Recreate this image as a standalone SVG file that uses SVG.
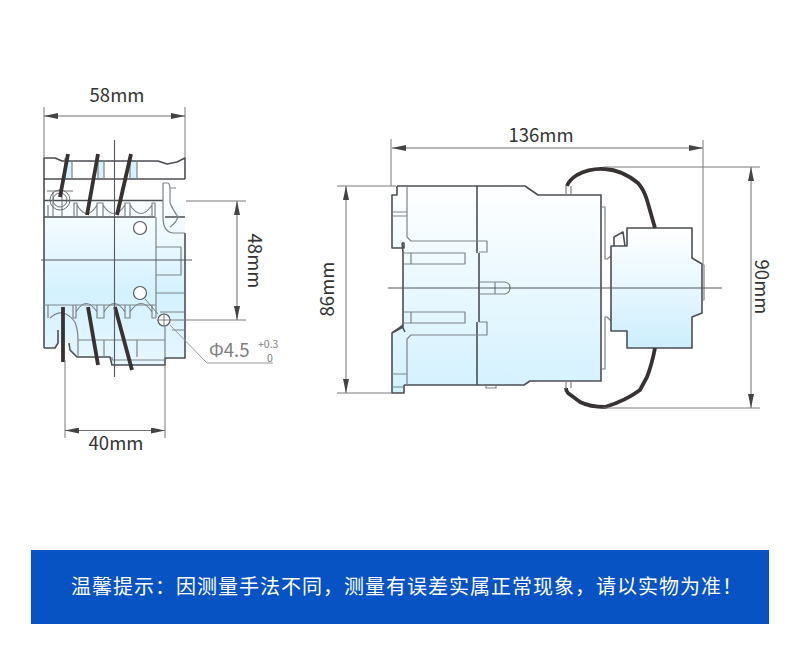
<svg xmlns="http://www.w3.org/2000/svg" width="800" height="661" viewBox="0 0 800 661">
<style>
text{font-family:"Noto Sans CJK SC","Noto Sans",sans-serif;fill:#333}
.d{font-size:18.500px}
.o{fill:none;stroke:#4c4f54;stroke-width:1.6;stroke-linejoin:round}
.t{fill:none;stroke:#7d8388;stroke-width:1.2;stroke-linejoin:round}
.m{fill:none;stroke:#7a7a7a;stroke-width:1}
.c{fill:none;stroke:#55585c;stroke-width:1.1}
.w{fill:none;stroke:#383232;stroke-width:3.8}
.a{fill:none;stroke:#6f6f6f;stroke-width:1;marker-start:url(#ah);marker-end:url(#ah)}
.g{fill:#7f7f7f}
</style>
<defs>
<marker id="ah" viewBox="0 0 14 6" refX="14" refY="3" markerWidth="14" markerHeight="6" markerUnits="userSpaceOnUse" orient="auto-start-reverse"><path d="M14 3L0 0V6Z" fill="#444"/></marker>
<linearGradient id="g" gradientUnits="userSpaceOnUse" x1="0" y1="186" x2="0" y2="393"><stop offset="0" stop-color="#fff"/><stop offset="1" stop-color="#d3f1fe"/></linearGradient>
<linearGradient id="g2" gradientUnits="userSpaceOnUse" x1="0" y1="228" x2="0" y2="348"><stop offset="0" stop-color="#fff"/><stop offset="1" stop-color="#cdeefd"/></linearGradient>
<linearGradient id="g3" gradientUnits="userSpaceOnUse" x1="0" y1="195" x2="0" y2="360"><stop offset="0" stop-color="#fff"/><stop offset=".6" stop-color="#d3f1fe"/><stop offset="1" stop-color="#e6f7ff"/></linearGradient>
</defs>
<rect width="800" height="661" fill="#fff"/>

<g id="side-view">
<path d="M44 158H55L62 162H158L167 164L177 162L185 158V358H165V365H112L110 357H77L70 350L69 343H58L55 348H44Z" fill="url(#g3)"/>
<path d="M65 160H72V179H65ZM98 160H104V179H98ZM130 160H137V179H130Z" fill="#d8f2fd"/>
<path class="o" d="M44 348V158H55L62 161H158L167 164L177 162L185 158V179M185 233V358H165V365H112L110 357H77L70 350L69 343M44 348H55L58 343V330"/>
<path class="o" d="M44 179H185M44 200.500H163M44 217H155M165 217H185"/>
<path class="t" d="M156 217V318M156 247H181V275H156M156 293H185M160 312H185M172 330H185M44 305H156M50 318Q63 306 75 322Q78 330 78 340M78 340V357M78 340H165M104 340V357M137 340V357M165 327V358M112 357V360H165"/>
<path class="t" d="M48 217V205M74 217V203H77V217M77 205Q87 222 97 205M97 217V203H103V217M103 205Q114 222 125 205M125 217V203H130V217M130 205Q141 222 152 205M152 217V203H155V217"/>
<path class="t" d="M48 305V318M73 305V318H76V305M76 312Q86 295 97 312M97 305V318H104V305M104 312Q114 295 125 312M125 305V318H130V305M130 312Q141 295 152 312M152 305V318H156"/>
<path class="t" d="M163 183V217Q163 232 173 233H185M163 183H168Q170 184 170 190V203Q172 208 178 217Q176 223 170 227M170 188H176M65 158V179M72 160V179M98 160V179M104 160V179M130 160V179M137 160V179"/>
<g fill="none" stroke="#6d7175" stroke-width="1"><circle cx="60" cy="200" r="10"/><circle cx="60" cy="200" r="7"/><path d="M47 191H73M53 192V217M62 192V217"/></g>
<circle cx="140" cy="228" r="6.500" fill="#fff" stroke="#55585c" stroke-width="1.200"/>
<circle cx="140" cy="293" r="6.500" fill="#fff" stroke="#55585c" stroke-width="1.200"/>
<circle cx="164" cy="320" r="6" fill="#fff" stroke="#55585c" stroke-width="1.200"/>
<path class="m" d="M157 320H171M164 313V327M145 299L158 314"/>
<path class="w" d="M68 154L60 197M98 154L87 215M131 154L117 215M63 307V362M88 307L98 365M115 307L132 370"/>
</g>

<g id="front-view">
<path d="M392 186H525L538 195H601V381H530L525 385H404V393H392V333L403 327V248H392V195H397V186Z" fill="url(#g)"/>
<path class="o" d="M397 186H525L538 195H601V381H530L524 385H404M397 186V195H392V248H404V243L402 243M402 243L403 252V303M403 272V327L392 333V393H404V385M392 333L402 326L405 332M477 186V253M477 322V385M479 253V322"/>
<path class="t" d="M407 186V237L411 241H487V252H479M479 322H487V335H411L407 339V385M392 212H407M392 216H407M392 374H407M392 387H404M479 282H505Q510 283 510 288Q510 293 505 294H479M495 282V294"/>
<path class="t" d="M404 253H465V264H404M411 253V264M404 312H465V323H404M411 312V323M486 385V388H496V385"/>
<path class="t" d="M602 207H605V259H607L611 256M611 321L607 317H605V369H602"/>
</g>

<g id="module">
<path d="M627 228H692V258L702 264V313L692 317V348H627V331H611V246H627Z" fill="url(#g2)"/>
<path class="o" d="M627 228H692V258L702 264V313L692 317V348H627V331H611V246H627ZM614 246V237L623 232L625 246"/>
<path class="t" d="M702 265H704V300H702"/>
</g>

<g id="wires">
<path class="w" d="M567 186Q569 180 577 175Q590 168 605 169Q622 170 638 183Q644 190 647 200L655 228M655 348Q652 364 647 377L640 390Q625 401 605 407Q590 407 580 402L568 393Q566 391 566 388"/>
<path class="t" d="M566 186V195M571 186V195M566 381V389M571 381V388"/>
</g>

<g id="connectors">
<path class="c" d="M114.500 140V377M41 260H192M388 288H722"/>
<path class="m" d="M44 107V158M185 107V158M65 360V438M165 365V438M186 201H246M170 320H246M337 186H396M337 393H392M391 139V186M703 140V265M603 167H760M603 408H760"/>
<path class="a" d="M44 116H185"/>
<path class="a" d="M65 430.500H165"/>
<path class="a" d="M237 201V320"/>
<path class="a" d="M346 186V393"/>
<path class="a" d="M392 148H703"/>
<path class="a" d="M751 167V408"/>
<path d="M170 325L207 363H273" fill="none" stroke="#9a9a9a" stroke-width="1"/>
</g>

<g id="labels">
<text class="d" x="117" y="102" text-anchor="middle">58mm</text>
<text class="d" x="116" y="450" text-anchor="middle">40mm</text>
<text class="d" x="541" y="142" text-anchor="middle">136mm</text>
<text class="d" transform="translate(248 261) rotate(90)" text-anchor="middle">48mm</text>
<text class="d" transform="translate(334 289) rotate(-90)" text-anchor="middle">86mm</text>
<text class="d" transform="translate(755 287) rotate(90)" text-anchor="middle">90mm</text>
<text x="209" y="357" font-size="18.500" class="g">Φ4.5</text>
<text x="258" y="348" font-size="10.500" class="g">+0.3</text>
<text x="267" y="361.500" font-size="10.500" class="g">0</text>
</g>

<g id="banner">
<rect x="31" y="550" width="738" height="74" fill="#0753c3"/>
<text x="71" y="594" font-size="20" letter-spacing="1" style="fill:#fff">温馨提示：因测量手法不同，测量有误差实属正常现象，请以实物为准！</text>
</g>
</svg>
